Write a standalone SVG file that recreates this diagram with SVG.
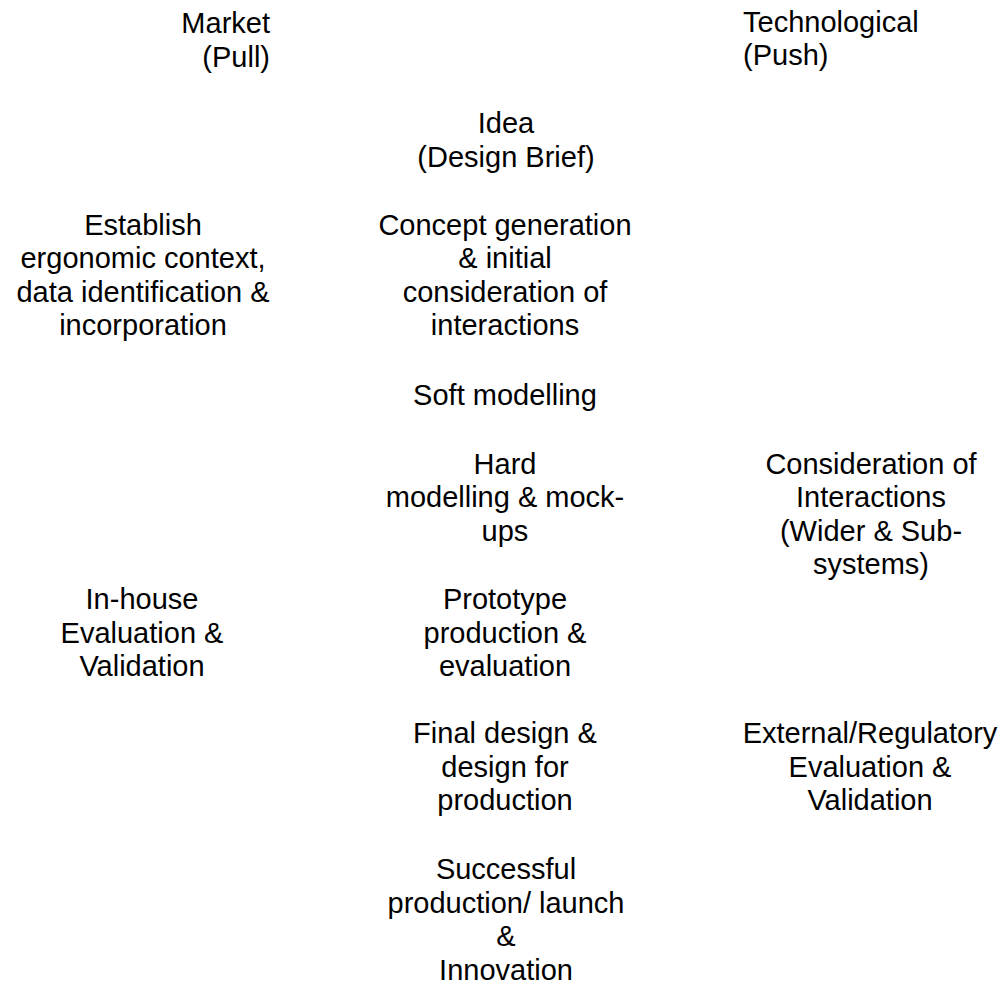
<svg xmlns="http://www.w3.org/2000/svg" width="1008" height="984" viewBox="0 0 1008 984">
<style>
text{font-family:"Liberation Sans",Arial,sans-serif;font-size:29px;fill:#000}
.c{text-anchor:middle}
.r{text-anchor:end}
.l{text-anchor:start}
</style>
<rect width="1008" height="984" fill="#fff"/>
<g id="connectors"></g>
<g id="market"><text class="r" x="270" y="33">Market</text><text class="r" x="270" y="67">(Pull)</text></g>
<g id="technological"><text class="l" x="743" y="32">Technological</text><text class="l" x="743" y="65">(Push)</text></g>
<g id="idea"><text class="c" x="506" y="133">Idea</text><text class="c" x="506" y="167">(Design Brief)</text></g>
<g id="establish"><text class="c" x="143" y="235">Establish</text><text class="c" x="143" y="268">ergonomic context,</text><text class="c" x="143" y="302">data identification &amp;</text><text class="c" x="143" y="335">incorporation</text></g>
<g id="concept"><text class="c" x="505" y="235">Concept generation</text><text class="c" x="505" y="268">&amp; initial</text><text class="c" x="505" y="302">consideration of</text><text class="c" x="505" y="335">interactions</text></g>
<g id="soft"><text class="c" x="505" y="405">Soft modelling</text></g>
<g id="hard"><text class="c" x="505" y="474">Hard</text><text class="c" x="505" y="507">modelling &amp; mock-</text><text class="c" x="505" y="541">ups</text></g>
<g id="interactions"><text class="c" x="871" y="474">Consideration of</text><text class="c" x="871" y="507">Interactions</text><text class="c" x="871" y="541">(Wider &amp; Sub-</text><text class="c" x="871" y="574">systems)</text></g>
<g id="inhouse"><text class="c" x="142" y="609">In-house</text><text class="c" x="142" y="643">Evaluation &amp;</text><text class="c" x="142" y="676">Validation</text></g>
<g id="prototype"><text class="c" x="505" y="609">Prototype</text><text class="c" x="505" y="643">production &amp;</text><text class="c" x="505" y="676">evaluation</text></g>
<g id="final"><text class="c" x="505" y="743">Final design &amp;</text><text class="c" x="505" y="777">design for</text><text class="c" x="505" y="810">production</text></g>
<g id="external"><text class="c" x="870" y="743">External/Regulatory</text><text class="c" x="870" y="777">Evaluation &amp;</text><text class="c" x="870" y="810">Validation</text></g>
<g id="successful"><text class="c" x="506" y="879">Successful</text><text class="c" x="506" y="913">production/ launch</text><text class="c" x="506" y="946">&amp;</text><text class="c" x="506" y="980">Innovation</text></g>
</svg>
